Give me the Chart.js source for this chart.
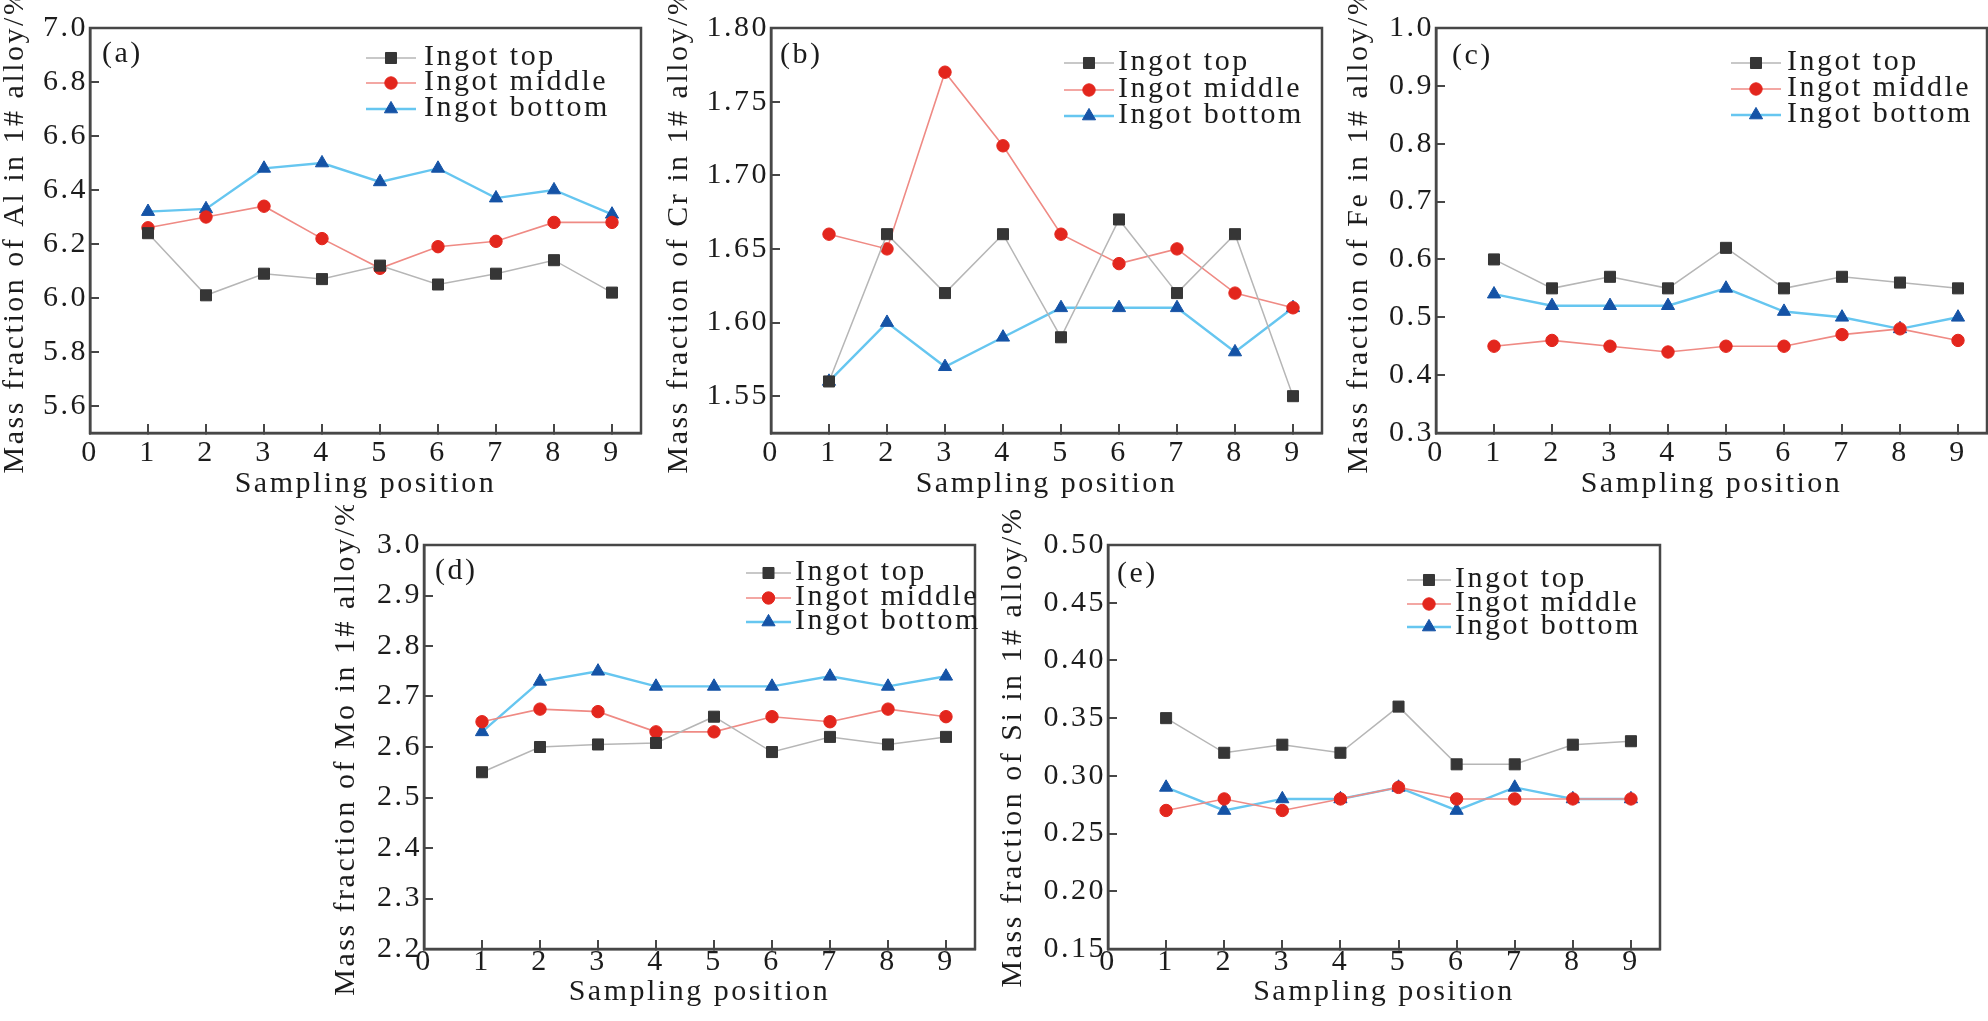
<!DOCTYPE html>
<html>
<head>
<meta charset="utf-8">
<script src="https://cdn.jsdelivr.net/npm/chart.js@4.4.0/dist/chart.umd.min.js"></script>
<style>
  html, body { margin: 0; padding: 0; background: #fff; }
  body { width: 1988px; height: 1021px; position: relative; overflow: hidden; }
  canvas { position: absolute; }
</style>
</head>
<body>
<script>
// ---------- data ----------
const positions   = [1, 2, 3, 4, 5, 6, 7, 8, 9];
const seriesNames = ["Ingot top", "Ingot middle", "Ingot bottom"];
const xTicks      = [0, 1, 2, 3, 4, 5, 6, 7, 8, 9];

// (a) Al
const alTop    = [6.24, 6.01, 6.09, 6.07, 6.12, 6.05, 6.09, 6.14, 6.02];
const alMiddle = [6.26, 6.30, 6.34, 6.22, 6.11, 6.19, 6.21, 6.28, 6.28];
const alBottom = [6.32, 6.33, 6.48, 6.50, 6.43, 6.48, 6.37, 6.40, 6.31];
const alTicks  = [5.6, 5.8, 6.0, 6.2, 6.4, 6.6, 6.8, 7.0];

// (b) Cr
const crTop    = [1.56, 1.66, 1.62, 1.66, 1.59, 1.67, 1.62, 1.66, 1.55];
const crMiddle = [1.66, 1.65, 1.77, 1.72, 1.66, 1.64, 1.65, 1.62, 1.61];
const crBottom = [1.56, 1.60, 1.57, 1.59, 1.61, 1.61, 1.61, 1.58, 1.61];
const crTicks  = [1.55, 1.60, 1.65, 1.70, 1.75, 1.80];

// (c) Fe
const feTop    = [0.60, 0.55, 0.57, 0.55, 0.62, 0.55, 0.57, 0.56, 0.55];
const feMiddle = [0.45, 0.46, 0.45, 0.44, 0.45, 0.45, 0.47, 0.48, 0.46];
const feBottom = [0.54, 0.52, 0.52, 0.52, 0.55, 0.51, 0.50, 0.48, 0.50];
const feTicks  = [0.3, 0.4, 0.5, 0.6, 0.7, 0.8, 0.9, 1.0];

// (d) Mo
const moTop    = [2.55, 2.60, 2.605, 2.608, 2.66, 2.59, 2.62, 2.605, 2.62];
const moMiddle = [2.65, 2.675, 2.67, 2.63, 2.63, 2.66, 2.65, 2.675, 2.66];
const moBottom = [2.63, 2.73, 2.75, 2.72, 2.72, 2.72, 2.74, 2.72, 2.74];
const moTicks  = [2.2, 2.3, 2.4, 2.5, 2.6, 2.7, 2.8, 2.9, 3.0];

// (e) Si
const siTop    = [0.35, 0.32, 0.327, 0.32, 0.36, 0.31, 0.31, 0.327, 0.33];
const siMiddle = [0.27, 0.28, 0.27, 0.28, 0.29, 0.28, 0.28, 0.28, 0.28];
const siBottom = [0.29, 0.27, 0.28, 0.28, 0.29, 0.27, 0.29, 0.28, 0.28];
const siTicks  = [0.15, 0.20, 0.25, 0.30, 0.35, 0.40, 0.45, 0.50];

// ---------- look ----------
const SERIF = '"Liberation Serif", "Times New Roman", serif';
const INK = "#1c1c1c";
const FRAME = "#474747";
const SPACING = "2.5px";

const seriesStyle = [
  { line: "#b6b6b6", point: "#363636", shape: "rect",     radius: 7.8, width: 1.5 },
  { line: "#ef8a84", point: "#e3261d", shape: "circle",   radius: 6.2, width: 1.6 },
  { line: "#66c6f0", point: "#1553a6", shape: "triangle", radius: 7.6, width: 2.4 }
];

// panel placement on the page (chart area L,T,R,B), titles, tag and legend offsets
// legendAt: [line start from right edge, text offset from line start, row1, row2, row3 from top]
const panels = [
  { key: "a", element: "Al", series: [alTop, alMiddle, alBottom], ticks: alTicks, yMin: 5.5,   yMax: 7.0,  digits: 1,
    area: [90, 28, 641, 433],    yTitleX: 15,   xTitleY: 484, xTickPad: 11, tagAt: [12, 26], legendAt: [275, 58, 30, 55, 81] },
  { key: "b", element: "Cr", series: [crTop, crMiddle, crBottom], ticks: crTicks, yMin: 1.525, yMax: 1.80, digits: 2,
    area: [771, 28, 1322, 433],  yTitleX: 679,  xTitleY: 484, xTickPad: 11, tagAt: [9, 27],  legendAt: [258, 54, 35, 62, 88] },
  { key: "c", element: "Fe", series: [feTop, feMiddle, feBottom], ticks: feTicks, yMin: 0.3,   yMax: 1.0,  digits: 1,
    area: [1436, 28, 1987, 433], yTitleX: 1359, xTitleY: 484, xTickPad: 11, tagAt: [16, 28], legendAt: [256, 56, 35, 61, 87] },
  { key: "d", element: "Mo", series: [moTop, moMiddle, moBottom], ticks: moTicks, yMin: 2.2,   yMax: 3.0,  digits: 1,
    area: [424, 545, 975, 949],  yTitleX: 346,  xTitleY: 992, xTickPad: 4,  tagAt: [11, 26], legendAt: [229, 49, 28, 53, 77] },
  { key: "e", element: "Si", series: [siTop, siMiddle, siBottom], ticks: siTicks, yMin: 0.15,  yMax: 0.50, digits: 2,
    area: [1108, 545, 1660, 949], yTitleX: 1013, xTitleY: 992, xTickPad: 4, tagAt: [9, 29],  legendAt: [253, 48, 35, 59, 82] }
];

/* =========================
   letter spacing for all text
========================= */
Chart.register({
  id: "spacing",
  beforeDraw(chart) { chart.ctx.letterSpacing = SPACING; }
});

/* =========================
   frame, panel tag, legend
========================= */
function decorPlugin(p) {
  return {
    id: "decor",
    afterDatasetsDraw(chart) {
      const { ctx, chartArea: a } = chart;
      ctx.save();
      ctx.strokeStyle = FRAME;
      ctx.lineWidth = 2.5;
      ctx.strokeRect(a.left, a.top, a.right - a.left, a.bottom - a.top);
      ctx.restore();
    },
    afterDraw(chart) {
      const { ctx, chartArea: a } = chart;
      ctx.save();
      ctx.letterSpacing = SPACING;
      ctx.font = "30px " + SERIF;
      ctx.textBaseline = "middle";
      ctx.textAlign = "left";
      ctx.fillStyle = INK;
      ctx.fillText("(" + p.key + ")", a.left + p.tagAt[0], a.top + p.tagAt[1]);

      const [fromRight, textGap] = p.legendAt;
      const x0 = a.right - fromRight;
      chart.data.datasets.forEach((ds, i) => {
        const y = a.top + p.legendAt[2 + i];
        ctx.strokeStyle = ds.borderColor;
        ctx.lineWidth = ds.borderWidth;
        ctx.beginPath();
        ctx.moveTo(x0, y);
        ctx.lineTo(x0 + Math.min(50, textGap - 4), y);
        ctx.stroke();
        ctx.fillStyle = ds.pointBackgroundColor;
        ctx.strokeStyle = ds.pointBorderColor;
        ctx.lineWidth = 1;
        Chart.helpers.drawPoint(ctx, { pointStyle: ds.pointStyle, radius: ds.pointRadius, rotation: 0, borderWidth: 1 },
          x0 + Math.min(50, textGap - 4) / 2, y);
        ctx.fillStyle = INK;
        ctx.fillText(ds.label, x0 + textGap, y - 1);
      });
      ctx.restore();
    }
  };
}

/* =========================
   one panel
========================= */
function buildPanel(p) {
  const [L, T, R, B] = p.area;
  const cx = p.yTitleX - 18;
  const cy = T - 40;
  const padR = 40, padB = 6;
  const cw = R + padR - cx;
  const ch = p.xTitleY + 18 + padB - cy;

  const canvas = document.createElement("canvas");
  canvas.width = cw;
  canvas.height = ch;
  canvas.style.left = cx + "px";
  canvas.style.top = cy + "px";
  canvas.style.width = cw + "px";
  canvas.style.height = ch + "px";
  document.body.appendChild(canvas);

  const datasets = p.series.map((vals, i) => {
    const s = seriesStyle[i];
    return {
      label: seriesNames[i],
      data: positions.map((x, k) => ({ x, y: vals[k] })),
      borderColor: s.line,
      borderWidth: s.width,
      pointStyle: s.shape,
      pointRadius: s.radius,
      pointBackgroundColor: s.point,
      pointBorderColor: s.point,
      pointBorderWidth: 1,
      tension: 0,
      fill: false,
      clip: false
    };
  });

  const axisFont = { family: SERIF, size: 30 };
  const grid = { drawOnChartArea: false, drawTicks: true, tickLength: -9, color: FRAME, lineWidth: 2 };

  new Chart(canvas, {
    type: "line",
    data: { datasets },
    options: {
      responsive: false,
      animation: false,
      devicePixelRatio: 1,
      layout: { padding: { left: 0, top: T - cy, right: padR, bottom: padB } },
      plugins: { legend: { display: false }, tooltip: { enabled: false } },
      scales: {
        x: {
          type: "linear",
          min: 0,
          max: 9.5,
          afterBuildTicks: axis => { axis.ticks = xTicks.map(v => ({ value: v })); },
          afterFit: s => { s.height = (ch - padB) - (B - cy); },
          ticks: { font: axisFont, color: INK, padding: p.xTickPad, maxRotation: 0, autoSkip: false, callback: v => String(v) },
          grid,
          border: { display: true, color: FRAME, width: 2.5 },
          title: { display: true, text: "Sampling position", font: { family: SERIF, size: 30, lineHeight: 1.2 }, color: INK, padding: 0 }
        },
        y: {
          type: "linear",
          min: p.yMin,
          max: p.yMax,
          afterBuildTicks: axis => { axis.ticks = p.ticks.map(v => ({ value: v })); },
          afterFit: s => { s.width = L - cx; },
          ticks: { font: axisFont, color: INK, padding: 11, autoSkip: false, callback: v => Number(v).toFixed(p.digits) },
          grid,
          border: { display: true, color: FRAME, width: 2.5 },
          title: { display: true, text: "Mass fraction of " + p.element + " in 1# alloy/%", font: { family: SERIF, size: 30, lineHeight: 1.2 }, color: INK, padding: 0 }
        }
      }
    },
    plugins: [decorPlugin(p)]
  });
}

document.addEventListener("DOMContentLoaded", () => {
  panels.forEach(buildPanel);
});
</script>
</body>
</html>
